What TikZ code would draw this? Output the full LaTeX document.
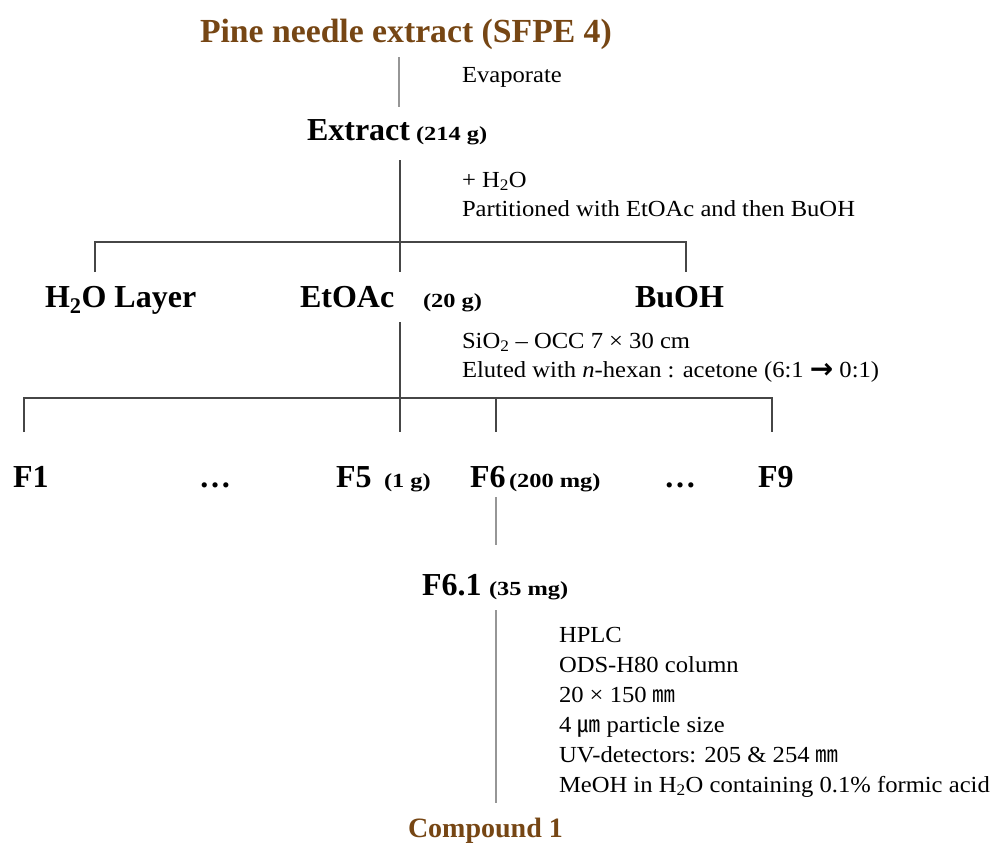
\documentclass[tikz,border=0pt]{standalone}
\usepackage{fontspec}
\setmainfont{Liberation Serif}
\newfontfamily\notefont[FakeStretch=1.07,Ligatures=TeX]{Liberation Serif}
\newfontfamily\smallfont[FakeStretch=1.22,Ligatures=TeX]{Liberation Serif}
\newfontfamily\cjk{Noto Sans CJK KR}
\newfontfamily\arrowfont{DejaVu Sans}
\definecolor{titlebrown}{RGB}{118,70,20}
\definecolor{linegray}{RGB}{70,70,70}
\definecolor{palegray}{RGB}{150,150,150}
\begin{document}
\begin{tikzpicture}[x=1pt,y=-1pt,
  lbl/.style={anchor=base west,inner sep=0pt,outer sep=0pt},
  big/.style={lbl,font=\fontsize{32}{36}\selectfont\bfseries},
  small/.style={lbl,font=\smallfont\fontsize{20}{24}\selectfont\bfseries},
  note/.style={lbl,font=\notefont\fontsize{23}{28}\selectfont},
  brownt/.style={text=titlebrown},
  conn/.style={draw=linegray,line width=1.2pt},
  paleconn/.style={draw=palegray,line width=1.4pt}]
\useasboundingbox (0,0) rectangle (992,844);

% title
\node[lbl,brownt,font=\fontsize{33.7}{38}\selectfont\bfseries] (title) at (200,42) {Pine needle extract (SFPE 4)};
\node[note] (evap) at (462,82) {Evaporate};
\node[big] (extract) at (307,140) {Extract};
\node[small] (extractw) at (416,140) {(214 g)};
\coordinate (c1a) at (399,57);
\coordinate (c1b) at (399,107);
\draw[paleconn] (c1a) -- (c1b);

% partition
\node[note] (water) at (462,187) {+ H\textsubscript{2}O};
\node[note] (part) at (462,216) {Partitioned with EtOAc and then BuOH};
\coordinate (c2a) at (400,160);
\coordinate (c2b) at (400,272);
\coordinate (c2l) at (95,242);
\coordinate (c2r) at (686,242);
\coordinate (c2lb) at (95,272);
\coordinate (c2rb) at (686,272);
\draw[conn] (c2a) -- (c2b);
\draw[conn] (c2lb) -- (c2l) -- (c2r) -- (c2rb);

\node[big] (h2o) at (45,307) {H\textsubscript{2}O Layer};
\node[big] (etoac) at (300,307) {EtOAc};
\node[small] (etoacw) at (423,307) {(20 g)};
\node[big] (buoh) at (635,307) {BuOH};

% column
\node[note] (sio) at (462,348) {SiO\textsubscript{2} – OCC 7 × 30 cm};
\node[note] (elu) at (462,377) {Eluted with \textit{n}-hexan : acetone (6:1 {\arrowfont\bfseries\fontsize{28}{28}\selectfont\raisebox{-1pt}{→}} 0:1)};
\coordinate (c3a) at (400,322);
\coordinate (c3b) at (400,432);
\coordinate (c3l) at (24,398);
\coordinate (c3r) at (772,398);
\coordinate (c3lb) at (24,432);
\coordinate (c3m) at (496,398);
\coordinate (c3mb) at (496,432);
\coordinate (c3rb) at (772,432);
\draw[conn] (c3a) -- (c3b);
\draw[conn] (c3lb) -- (c3l) -- (c3r) -- (c3rb);
\draw[conn] (c3m) -- (c3mb);

\node[big] (f1) at (13,487) {F1};
\node[big,anchor=base] (dots1) at (215,487) {…};
\node[big] (f5) at (336,487) {F5};
\node[small] (f5w) at (384,487) {(1 g)};
\node[big] (f6) at (470,487) {F6};
\node[small] (f6w) at (509,487) {(200 mg)};
\node[big,anchor=base] (dots2) at (680,487) {…};
\node[big] (f9) at (758,487) {F9};

\coordinate (c4a) at (496,497);
\coordinate (c4b) at (496,545);
\draw[paleconn] (c4a) -- (c4b);

\node[big] (f61) at (422,595) {F6.1};
\node[small] (f61w) at (489,595) {(35 mg)};

% HPLC
\node[note] (h1) at (559,642) {HPLC};
\node[note] (h2) at (559,672) {ODS-H80 column};
\node[note] (h3) at (559,702) {20 × 150 {\cjk ㎜}};
\node[note] (h4) at (559,732) {4 {\cjk ㎛} particle size};
\node[note] (h5) at (559,762) {UV-detectors: 205 \& 254 {\cjk ㎜}};
\node[note] (h6) at (559,792) {MeOH in H\textsubscript{2}O containing 0.1\% formic acid};
\coordinate (c5a) at (496,610);
\coordinate (c5b) at (496,803);
\draw[paleconn] (c5a) -- (c5b);

\node[lbl,brownt,font=\fontsize{28}{32}\selectfont\bfseries] (cmp) at (408,837) {Compound 1};
\end{tikzpicture}
\end{document}
